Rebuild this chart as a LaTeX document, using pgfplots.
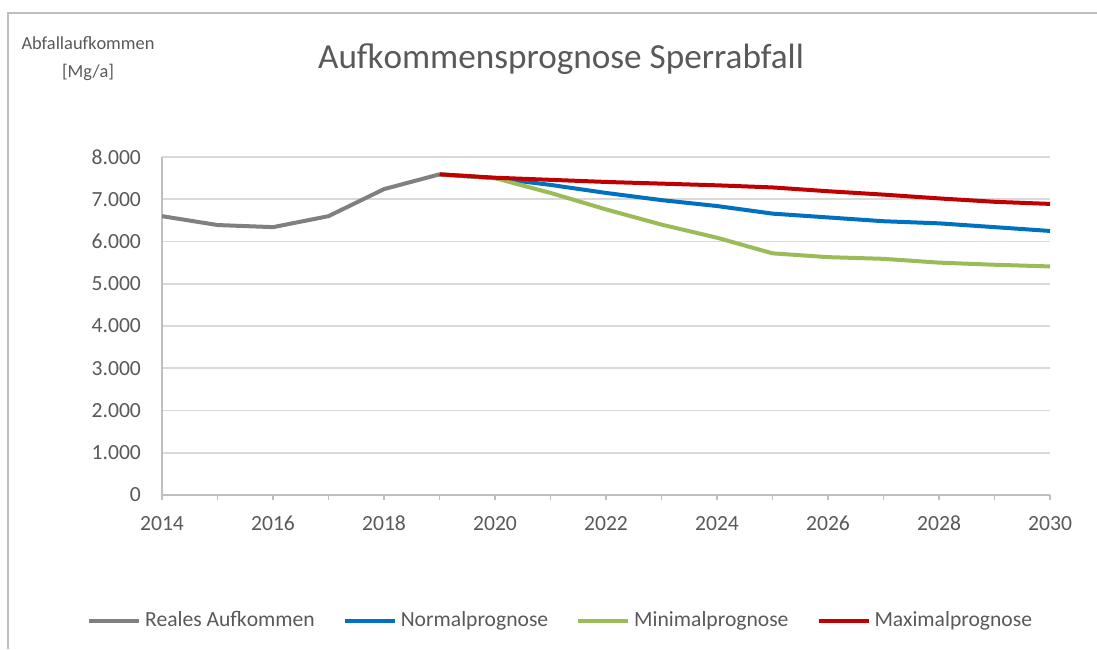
\documentclass[border=0pt]{standalone}
\usepackage{pgfplots}
\pgfplotsset{compat=1.18}
\usepackage{fontspec}
\setmainfont{Carlito}
\definecolor{txt}{HTML}{595959}
\definecolor{gridc}{HTML}{D9D9D9}
\definecolor{axc}{HTML}{BFBFBF}
\definecolor{real}{HTML}{808080}
\definecolor{normal}{HTML}{0070C0}
\definecolor{minimal}{HTML}{9BBB59}
\definecolor{maximal}{HTML}{C00000}

\begin{document}
\begin{tikzpicture}[x=0.5pt,y=0.5pt]
% 1 px of the reference = 0.5pt, origin bottom left
\path[use as bounding box] (0,0) rectangle (1097,649);
\draw[axc,line width=0.8pt] (8,0) -- (8,636) -- (1097,636);
\node[txt,font=\fontsize{17.6}{21}\selectfont] at (561,590) {Aufkommensprognose Sperrabfall};
\node[txt,font=\fontsize{9.2}{14}\selectfont,align=center] at (88,590) {Abfallaufkommen\\{}[Mg/a]};
\begin{axis}[
  at={(162pt*0.5,154pt*0.5)}, anchor=south west,
  scale only axis, width=444pt, height=169pt,
  xmin=2014, xmax=2030, ymin=0, ymax=8000,
  xtick={2014,2016,...,2030},
  minor xtick={2015,2017,...,2029},
  ytick={0,1000,...,8000},
  axis x line*=bottom, axis y line*=left,
  axis line style={axc,line width=0.8pt},
  tick align=outside,
  major x tick style={axc,line width=0.8pt},
  minor x tick style={axc,line width=0.8pt},
  major tick length=2.5pt, minor tick length=2.5pt,
  ytick style={draw=none},
  ymajorgrids, grid style={gridc,line width=0.8pt},
  tick label style={txt,font=\fontsize{10.8}{13}\selectfont},
  /pgf/number format/assume math mode=true,
  x tick label style={/pgf/number format/1000 sep={}},
  y tick label style={/pgf/number format/1000 sep={.}},
  xticklabel shift=4.5pt, yticklabel shift=4.5pt,
  clip=false,
  legend columns=4,
  legend style={at={(0.45,-0.372)}, anchor=center, draw=none, fill=none,
    text=txt, font=\fontsize{10.8}{13}\selectfont,
    /tikz/every even column/.append style={column sep=12pt}},
  legend image code/.code={\draw[#1] (0pt,0pt) -- (25pt,0pt);},
  every axis plot/.append style={line width=2pt, line join=round},
]
\addplot[real] coordinates {(2014,6600) (2015,6390) (2016,6340) (2017,6600) (2018,7240) (2019,7590)};
\addlegendentry{Reales Aufkommen}
\addplot[normal] coordinates {(2019,7590) (2020,7500) (2021,7340) (2022,7150) (2023,6980) (2024,6840) (2025,6660) (2026,6570) (2027,6480) (2028,6430) (2029,6340) (2030,6250)};
\addlegendentry{Normalprognose}
\addplot[minimal] coordinates {(2019,7590) (2020,7500) (2021,7150) (2022,6760) (2023,6400) (2024,6090) (2025,5720) (2026,5630) (2027,5590) (2028,5500) (2029,5450) (2030,5410)};
\addlegendentry{Minimalprognose}
\addplot[maximal] coordinates {(2019,7590) (2020,7510) (2021,7460) (2022,7410) (2023,7370) (2024,7330) (2025,7280) (2026,7190) (2027,7110) (2028,7020) (2029,6940) (2030,6890)};
\addlegendentry{Maximalprognose}
\end{axis}
\end{tikzpicture}
\end{document}
